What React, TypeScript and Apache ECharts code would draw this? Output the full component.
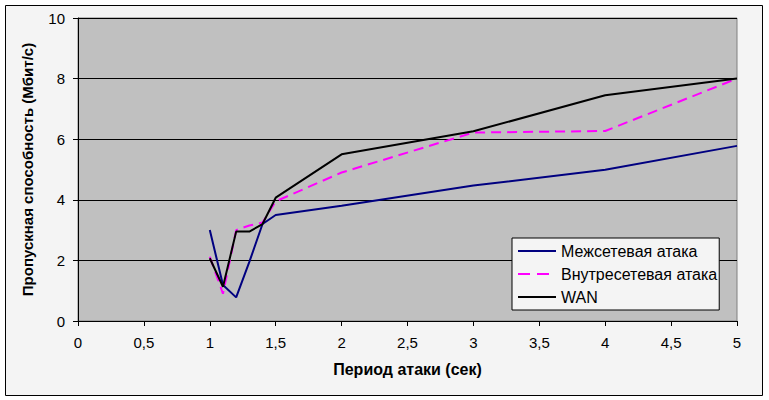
import React, { useEffect, useRef } from "react";
import * as echarts from "echarts";

const periods = [1, 1.1, 1.2, 1.3, 1.4, 1.5, 2, 3, 4, 5];
const interNet = [3.0, 1.19, 0.78, 1.95, 3.2, 3.5, 3.8, 4.47, 4.99, 5.78];
const intraNet = [2.12, 0.9, 3.0, 3.15, 3.25, 3.95, 4.9, 6.22, 6.27, 8.0];
const wan = [2.07, 1.13, 2.95, 2.95, 3.2, 4.07, 5.5, 6.26, 7.45, 8.0];
const seriesNames = ["Межсетевая атака", "Внутресетевая атака", "WAN"];

const FONT = "'Liberation Sans', Arial, sans-serif";

export default function App() {
  const ref = useRef<HTMLDivElement>(null);
  useEffect(() => {
    document.body.style.margin = "0";
    const chart = echarts.init(ref.current!, null, { renderer: "svg" });
    const pairs = (ys: number[]) => periods.map((x, i) => [x, ys[i]]);
    chart.setOption({
      animation: false,
      backgroundColor: "#ffffff",
      textStyle: { fontFamily: FONT },
      graphic: [
        {
          type: "rect",
          z: -10,
          shape: { x: 5.5, y: 5.5, width: 757, height: 390 },
          style: { fill: "#f4f4f4", stroke: "#000000", lineWidth: 1 },
        },
      ],
      grid: {
        left: 78,
        right: 32,
        top: 18,
        bottom: 79,
        show: true,
        backgroundColor: "#c0c0c0",
        borderColor: "#808080",
        borderWidth: 1,
      },
      legend: {
        orient: "vertical",
        left: 512,
        top: 238,
        itemWidth: 38,
        itemHeight: 16,
        itemGap: 7,
        padding: [5, 2, 5, 5],
        backgroundColor: "#f4f4f4",
        borderColor: "#000000",
        borderWidth: 1,
        itemStyle: { opacity: 0 },
        textStyle: { fontSize: 16, color: "#000", fontFamily: FONT },
        data: [
          { name: seriesNames[0] },
          { name: seriesNames[1], lineStyle: { type: [12, 7] } },
          { name: seriesNames[2] },
        ],
      },
      xAxis: {
        type: "value",
        min: 0,
        max: 5,
        interval: 0.5,
        name: "Период атаки (сек)",
        nameLocation: "middle",
        nameGap: 40,
        nameTextStyle: { fontSize: 16, fontWeight: "bold", color: "#000", fontFamily: FONT },
        axisLine: { show: true, lineStyle: { color: "#000", width: 1 } },
        axisTick: { show: true, length: 5, lineStyle: { color: "#000" } },
        axisLabel: {
          fontSize: 15,
          color: "#000",
          margin: 14,
          fontFamily: FONT,
          formatter: (v: number) => String(v).replace(".", ","),
        },
        splitLine: { show: false },
      },
      yAxis: {
        type: "value",
        min: 0,
        max: 10,
        interval: 2,
        name: "Пропускная способность (Мбит/с)",
        nameLocation: "middle",
        nameGap: 43,
        nameTextStyle: { fontSize: 15, fontWeight: "bold", color: "#000", fontFamily: FONT },
        axisLine: { show: true, lineStyle: { color: "#000", width: 1 } },
        axisTick: { show: true, length: 5, lineStyle: { color: "#000" } },
        axisLabel: { fontSize: 15, color: "#000", margin: 13, fontFamily: FONT },
        splitLine: { show: true, lineStyle: { color: "#000", width: 1 } },
      },
      series: [
        {
          name: seriesNames[0],
          type: "line",
          symbol: "none",
          data: pairs(interNet),
          lineStyle: { color: "#000080", width: 2 },
          itemStyle: { color: "#000080" },
        },
        {
          name: seriesNames[1],
          type: "line",
          symbol: "none",
          data: pairs(intraNet),
          lineStyle: { color: "#ff00ff", width: 2, type: [10, 6] },
          itemStyle: { color: "#ff00ff" },
        },
        {
          name: seriesNames[2],
          type: "line",
          symbol: "none",
          data: pairs(wan),
          lineStyle: { color: "#000000", width: 2 },
          itemStyle: { color: "#000000" },
        },
      ],
    });
    return () => chart.dispose();
  }, []);
  return <div ref={ref} style={{ width: 769, height: 400 }} />;
}
